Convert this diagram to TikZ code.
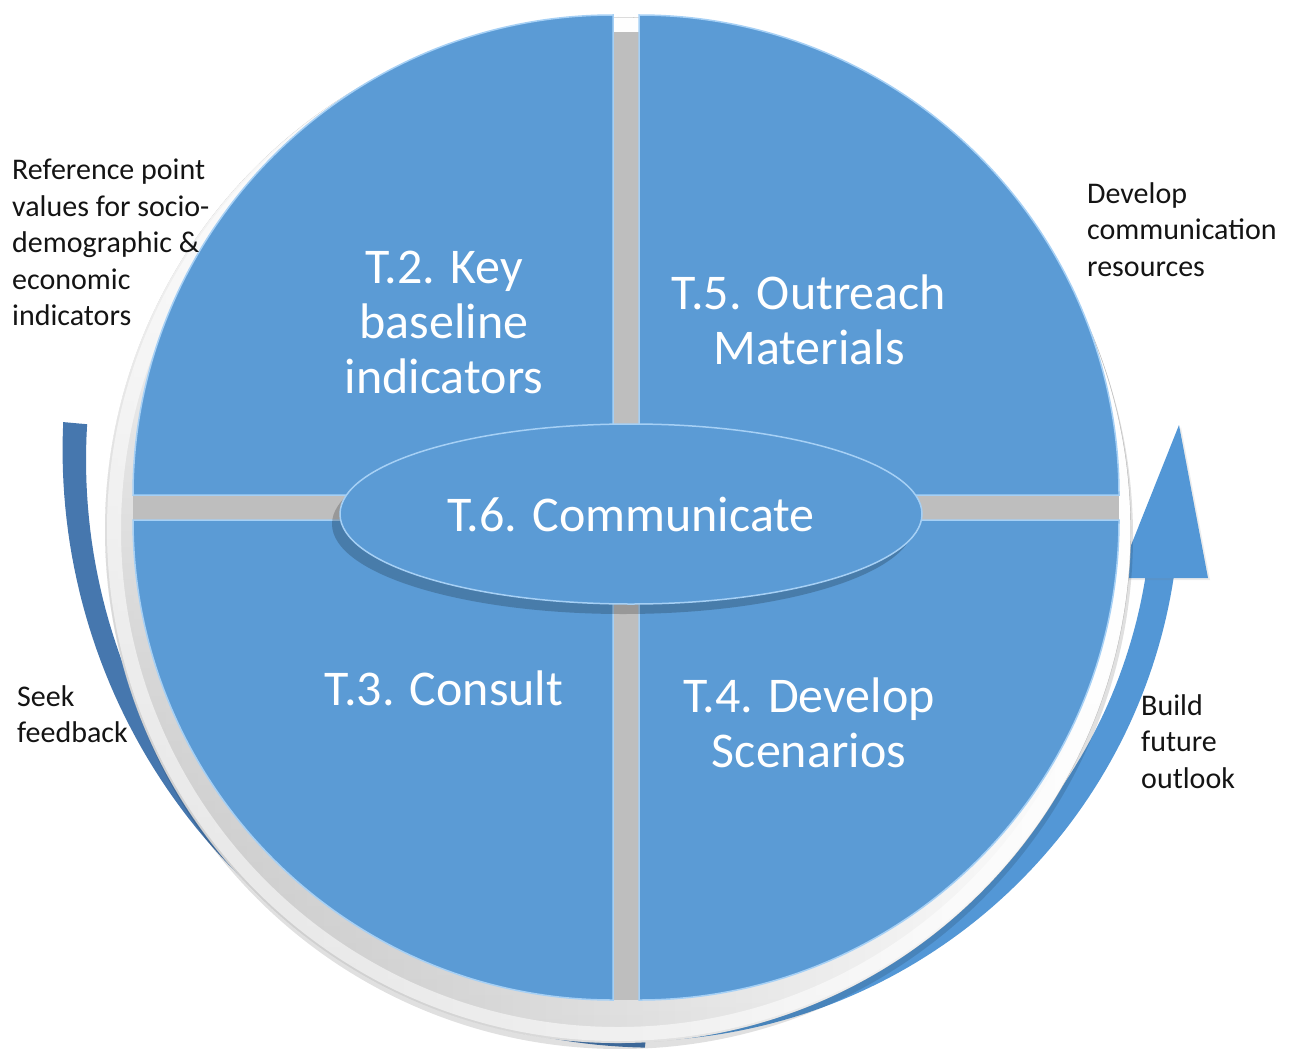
\documentclass[tikz,border=0pt]{standalone}
\usepackage{fontspec}
\setmainfont{Carlito}
\usetikzlibrary{shapes.geometric,shadows,fadings}
\definecolor{qblue}{HTML}{5B9BD5}
\definecolor{qlight}{HTML}{A6D0F5}
\definecolor{larc}{HTML}{4677AE}
\definecolor{rarc}{HTML}{5397D6}
\definecolor{gapgrey}{HTML}{BEBEBE}
\definecolor{txt}{HTML}{141414}
\tikzfading[name=fadetop, top color=transparent!0, middle color=transparent!100, bottom color=transparent!100]
\begin{document}
\begin{tikzpicture}[x=1pt,y=-1pt,
  quad/.style={fill=qblue, draw=qlight, line width=1.5pt},
  mainlabel/.style={text=white, align=center, font=\fontsize{50}{55}\selectfont, inner sep=0pt},
  sidelabel/.style={text=txt, align=left, font=\fontsize{30}{36.5}\selectfont, inner sep=0pt, anchor=north west},
  hub/.style={ellipse, fill=qblue, draw=qlight, line width=1.5pt, minimum width=582pt, minimum height=180pt, inner sep=0pt,
    text=white, font=\fontsize{50}{55}\selectfont,
    drop shadow={shadow xshift=-8pt, shadow yshift=-10pt, opacity=0.2, fill=black}},
]
\useasboundingbox (0,0) rectangle (1298,1049);

% left arc (feedback)
\fill[larc] plot[domain=0:1, samples=80, variable=\s]
   ({666+(604-16*\s)*cos(183.6-91.6*\s)}, {460+(604-16*\s)*sin(183.6-91.6*\s)})
   -- plot[domain=0:1, samples=80, variable=\s]
   ({666+580*cos(92+91.6*\s)}, {460+580*sin(92+91.6*\s)}) -- cycle;

% right arrow (future outlook)
\fill[rarc] plot[domain=0:1, samples=80, variable=\s]
   ({634+546*cos(8.5+86.5*\s)}, {495+546*sin(8.5+86.5*\s)})
   -- plot[domain=0:1, samples=80, variable=\s]
   ({634+518*cos(95-86.5*\s)}, {495+518*sin(95-86.5*\s)}) -- cycle;
\fill[rarc, drop shadow={shadow xshift=2pt, shadow yshift=-2pt, opacity=0.15}] (1118,578) -- (1179,425) -- (1208,578) -- cycle;

% grey base disk
\fill[black, opacity=0.12] (620,536) circle[radius=513];
\fill[gapgrey] (618,530) circle[radius=513];
\fill[white, path fading=west] (618,530) circle[radius=513];
\fill[white, path fading=fadetop] (618,530) circle[radius=513];
\draw[white, opacity=0.55, line width=14pt] (618,530) circle[radius=504];
\fill[gapgrey] (613,32) rectangle (639,1000);
\fill[gapgrey] (133,495) rectangle (1119,520);

% quadrants
\draw[quad] (613,495) -- (133,495) arc[start angle=180, end angle=270, radius=480] -- cycle;
\draw[quad] (639,495) -- (639,15) arc[start angle=270, end angle=360, radius=480] -- cycle;
\draw[quad] (613,520) -- (613,1000) arc[start angle=90, end angle=180, radius=480] -- cycle;
\draw[quad] (639,520) -- (1119,520) arc[start angle=0, end angle=90, radius=480] -- cycle;

% quadrant labels
\node[mainlabel] (t2) at (444,322) {T.2. Key\\baseline\\indicators};
\node[mainlabel] (t5) at (809,320) {T.5. Outreach\\Materials};
\node[mainlabel] (t3) at (444,688) {T.3. Consult};
\node[mainlabel] (t4) at (809,723) {T.4. Develop\\Scenarios};

% hub
\node[hub] (t6) at (631,514) {T.6. Communicate};

% side labels
\node[sidelabel] (refpt) at (12,159) {Reference point\\values for socio-\\demographic \&\\economic\\indicators};
\node[sidelabel] (devcom) at (1087,182) {Develop\\communication\\resources};
\node[sidelabel] (seek) at (17,685) {Seek\\feedback};
\node[sidelabel] (build) at (1141,694) {Build\\future\\outlook};
\end{tikzpicture}
\end{document}
